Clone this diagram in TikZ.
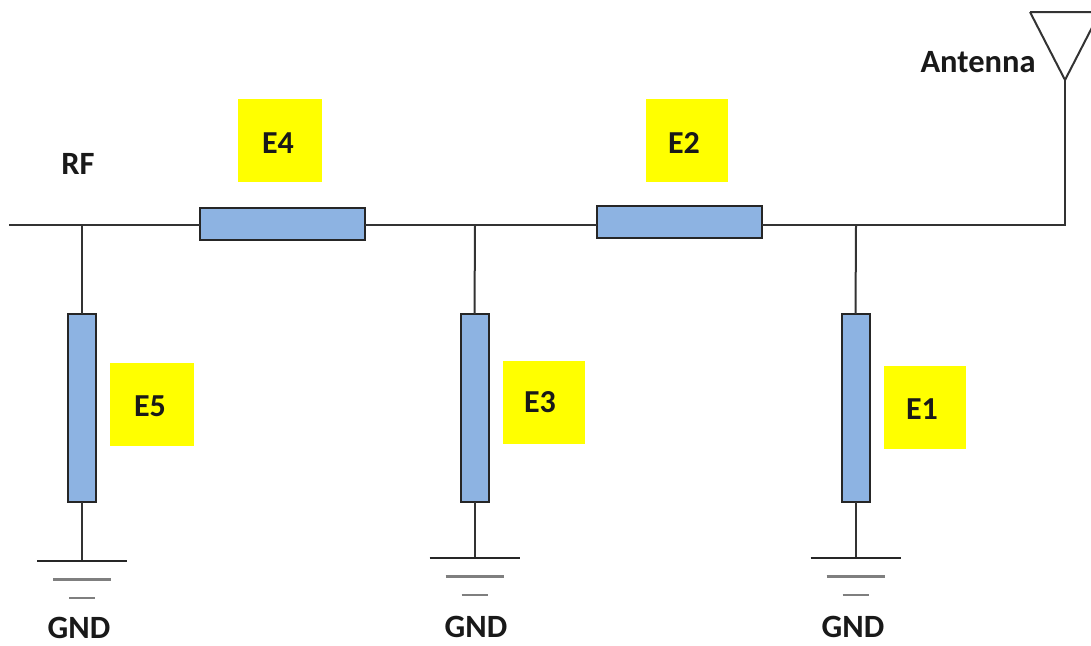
\documentclass[tikz,border=0pt]{standalone}
\usepackage{fontspec}
\usetikzlibrary{calc}
\setmainfont{Carlito}
\definecolor{bluebox}{HTML}{8DB3E2}
\definecolor{gndgray}{HTML}{7F7F7F}
\definecolor{yel}{HTML}{FFFF00}
\newcommand{\tagtext}[3]{\raisebox{#3}[\height][\depth]{#1}\kern#2}
\begin{document}
\begin{tikzpicture}[x=1pt,y=-1pt,
 elem/.style={draw=black!85,fill=bluebox,line width=2pt,inner sep=0,outer sep=0},
 tag/.style={fill=yel,inner sep=0,minimum width=#1,minimum height=83pt,font=\bfseries\fontsize{32}{32}\selectfont,text=black!90},
 lbl/.style={font=\bfseries\fontsize{32.5}{32}\selectfont,inner sep=0,text=black!90},
 wire/.style={line width=2pt,black!80},
 gnd1/.style={line width=2.2pt,black!85},
 gnd2/.style={line width=3pt,gndgray},
 gnd3/.style={line width=2.8pt,gndgray}]
\useasboundingbox (0,0) rectangle (1091,645);
\node[tag=84pt] (e4) at (280,140) {\tagtext{E4}{4pt}{-3pt}};
\node[tag=82pt] (e2) at (686.5,140) {\tagtext{E2}{5pt}{-3pt}};
\node[tag=84pt] (e5) at (152,404.5) {\tagtext{E5}{4pt}{-2pt}};
\node[tag=82pt] (e3) at (543.5,402) {\tagtext{E3}{7pt}{0pt}};
\node[tag=82pt] (e1) at (925,407) {\tagtext{E1}{6pt}{-2pt}};
\coordinate (start) at (9,225);
\coordinate (j5) at (82,225);
\coordinate (j3) at (475,225);
\coordinate (j1) at (856,225);
\coordinate (corner) at (1065,225);
\coordinate (tip) at (1065,80);
\coordinate (tl) at (1030,12);
\coordinate (tr) at (1100,12);
\node[elem,minimum width=165pt,minimum height=32pt] (r4) at (282,224) {};
\node[elem,minimum width=165pt,minimum height=32pt] (r2) at (679,221.5) {};
\node[elem,minimum width=28pt,minimum height=188pt] (r5) at (82,408) {};
\node[elem,minimum width=28pt,minimum height=188pt] (r3) at (474.5,408) {};
\node[elem,minimum width=28pt,minimum height=188pt] (r1) at (855.5,408) {};
\draw[wire] (start) -- (r4.west |- start);
\draw[wire] (r4.east |- start) -- (r2.west |- start);
\draw[wire,line join=miter] (r2.east |- corner) -- (corner) -- (tip);
\draw[wire] (tl) -- (tip) -- (tr) (tl) -- (tr);
\foreach \r/\j/\y in {r5/j5/561,r3/j3/558,r1/j1/558}{
 \draw[wire] (\j) -- (\r.north);
 \draw[wire] (\r.south) -- (\r.south |- 0,\y);
 \draw[gnd1] ($(\r.south |- 0,\y)+(-45,0)$) -- ++(90,0);
 \draw[gnd2] ($(\r.south |- 0,\y)+(-29,18)$) -- ++(58,0);
 \draw[gnd3] ($(\r.south |- 0,\y)+(-13,37)$) -- ++(26,0);
}
\node[lbl] (rf) at (78,164) {RF};
\node[lbl] (ant) at (978,62) {Antenna};
\node[lbl] (g5) at (79,628) {GND};
\node[lbl] (g3) at (476,626.5) {GND};
\node[lbl] (g1) at (853,626.5) {GND};
\end{tikzpicture}
\end{document}
